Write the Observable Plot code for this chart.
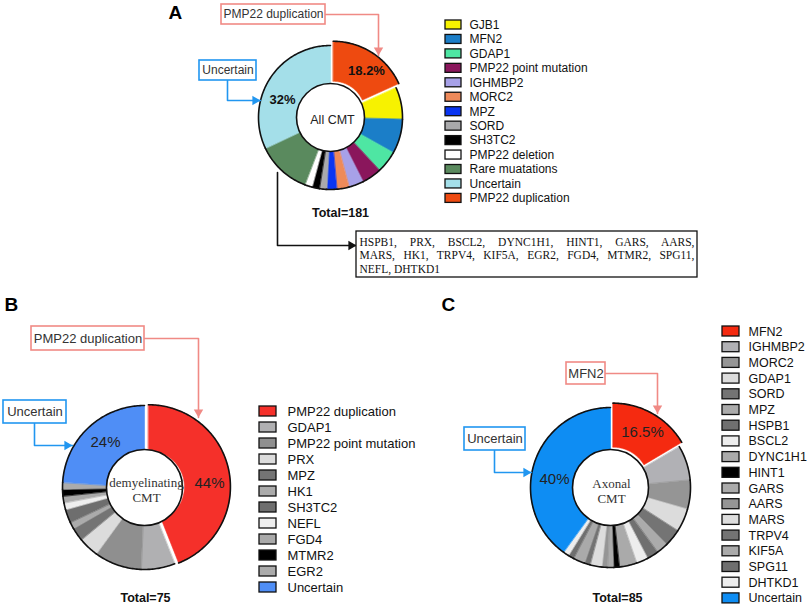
<!DOCTYPE html>
<html><head><meta charset="utf-8">
<script src="https://cdn.jsdelivr.net/npm/d3@7"></script>
<script src="https://cdn.jsdelivr.net/npm/@observablehq/plot@0.6"></script>
<style>html,body{margin:0;padding:0;background:#fff;} #chart{width:809px;height:607px;overflow:hidden}</style>
</head><body><div id="chart"></div>
<script>
// ---------- DATA ----------
const allLabels = ["GJB1","MFN2","GDAP1","PMP22 point mutation","IGHMBP2","MORC2","MPZ","SORD","SH3TC2","PMP22 deletion","Rare muatations","Uncertain","PMP22 duplication"];
const allCounts = [13,14,9,8,6,5,4,3,3,3,22,58,33];
const allColors = ["#f7f200","#1b7ec8","#4ee6a3","#8a165c","#a7a1e8","#ee8a5a","#0a35f2","#a9a9ab","#000000","#ffffff","#5a8a5e","#a4dfe9","#ee4a10"];

const demLabels = ["PMP22 duplication","GDAP1","PMP22 point mutation","PRX","MPZ","HK1","SH3TC2","NEFL","FGD4","MTMR2","EGR2","Uncertain"];
const demCounts = [33,5,7,3,2,1,2,1,1,1,1,18];
const demColors = ["#f5302a","#b0b0b2","#8f8f8f","#dcdcdc","#747474","#ababab","#6e6e6e","#eeeeee","#a9a9a9","#000000","#ababab","#4f8ef6"];

const axLabels = ["MFN2","IGHMBP2","MORC2","GDAP1","SORD","MPZ","HSPB1","BSCL2","DYNC1H1","HINT1","GARS","AARS","MARS","TRPV4","KIF5A","SPG11","DHTKD1","Uncertain"];
const axCounts = [14,6,5,4,3,2,2,2,3,1,1,1,2,1,2,1,1,34];
const axColors = ["#f52a10","#b1b1b5","#959595","#dcdcdc","#747474","#ababab","#707070","#ededed","#aaaaaa","#000000","#ababab","#959595","#dddddd","#737373","#aaaaaa","#6f6f6f","#eeeeee","#0e8df3"];

const rareGenes = ["HSPB1","PRX","BSCL2","DYNC1H1","HINT1","GARS","AARS","MARS","HK1","TRPV4","KIF5A","EGR2","FGD4","MTMR2","SPG11","NEFL","DHTKD1"];
const rareLineBreaks = [7, 15];

// ---------- LAYOUT ----------
const W = 809, H = 607, rad = Math.PI / 180;
const salmon = "#f08a85", blue = "#2196f0";
const sans = "Liberation Sans, Arial, sans-serif", serif = "Liberation Serif, Times New Roman, serif";

function donut(id, counts, colors, o) {
  const total = d3.sum(counts);
  const fills = [], rims = [];
  let a = o.start;
  counts.forEach((c, i) => {
    const a0 = a, a1 = a + c / total * 360; a = a1;
    const m = (a0 + a1) / 2 * rad;
    const off = i === o.explode ? o.offset : 0;
    const ox = o.cx + off * Math.sin(m), oy = o.cy - off * Math.cos(m);
    const n = Math.max(2, Math.ceil(a1 - a0));
    const key = id + i;
    for (let k = 0; k <= n; k++) {
      const t = (a0 + (a1 - a0) * k / n) * rad;
      const p = {x: ox + o.R * Math.sin(t), y: oy - o.R * Math.cos(t), key, color: colors[i]};
      fills.push(p); rims.push(p);
    }
    for (let k = n; k >= 0; k--) {
      const t = (a0 + (a1 - a0) * k / n) * rad;
      fills.push({x: ox + (o.r - 2) * Math.sin(t), y: oy - (o.r - 2) * Math.cos(t), key, color: colors[i]});
    }
  });
  return {fills, rims, total};
}
const pct = (c, t) => { const v = c / t * 100; return (Math.abs(v - Math.round(v)) < 0.1 ? Math.round(v) : v.toFixed(1)) + "%"; };

const A = {cx: 330, cy: 117, R: 72, r: 34, explode: 12, offset: 5};
A.start = 360 * allCounts[12] / d3.sum(allCounts);
const B = {cx: 144, cy: 487, R: 82, r: 38, start: 0, explode: 0, offset: 4};
const C = {cx: 610, cy: 487, R: 80, r: 38, start: 0, explode: 0, offset: 5};

const dA = donut("a", allCounts, allColors, A);
const dB = donut("b", demCounts, demColors, B);
const dC = donut("c", axCounts, axColors, C);
const fills = [...dA.fills, ...dB.fills, ...dC.fills];
const rims = [...dA.rims, ...dB.rims, ...dC.rims];

function hole(o) {
  return Plot.dot([o], {x: "cx", y: "cy", r: o.r, fill: "#fff", stroke: "#111", strokeWidth: 1.6});
}

// legends
function legend(labels, colors, o) {
  return labels.map((label, i) => ({label, color: colors[i], y: o.y0 + i * o.step, x1: o.x, x2: o.x + o.w, h: o.h, tx: o.tx}));
}
const legA = legend(allLabels, allColors, {x: 445, w: 16, h: 9, tx: 469, y0: 24.5, step: 14.45});
const legB = legend(demLabels, demColors, {x: 259, w: 17, h: 10, tx: 287, y0: 411, step: 16});
const legC = legend(axLabels, axColors, {x: 722, w: 17, h: 10, tx: 748, y0: 331, step: 15.7});
const legs = [...legA, ...legB, ...legC];

// callouts
const callouts = [
  {text: allLabels[12], color: salmon, box: [221, 4, 325, 24], fs: 12, path: [[325, 14], [378, 14], [378, 55]], rot: 180},
  {text: allLabels[11], color: blue, box: [199, 60, 256, 80], fs: 12, path: [[227, 80], [227, 100], [260, 100]], rot: 90},
  {text: demLabels[0], color: salmon, box: [31, 326, 144, 350], fs: 13, path: [[144, 338], [198, 338], [198, 417]], rot: 180},
  {text: demLabels[11], color: blue, box: [3, 400, 66, 423], fs: 13, path: [[34, 423], [34, 445], [72, 445]], rot: 90},
  {text: axLabels[0], color: salmon, box: [566, 362, 605, 384], fs: 13, path: [[605, 373], [657, 373], [657, 413]], rot: 180},
  {text: axLabels[17], color: blue, box: [464, 427, 525, 450], fs: 13, path: [[494, 450], [494, 472], [531, 472]], rot: 90},
  {text: null, color: "#111", box: null, path: [[277, 172], [277, 245], [356, 245]], rot: 90}
];
const calloutLines = callouts.flatMap((c, i) => c.path.map(([x, y]) => ({x, y, key: "c" + i, color: c.color})));
const heads = callouts.map(c => {
  const [x, y] = c.path[c.path.length - 1];
  const d = 5.4;
  const hx = c.rot === 90 ? x - d : x, hy = c.rot === 180 ? y - d : y;
  return {x: hx, y: hy, rot: c.rot, color: c.color};
});
const boxes = callouts.filter(c => c.box);

const rareLines = [
  rareGenes.slice(0, rareLineBreaks[0]).join(", ") + ",",
  rareGenes.slice(rareLineBreaks[0], rareLineBreaks[1]).join(", ") + ",",
  rareGenes.slice(rareLineBreaks[1]).join(", ")
].map((t, i) => ({t, y: 241.5 + i * 13.5}));

const pctLabels = [
  {t: pct(allCounts[12], dA.total), x: 366, y: 70, w: "bold"},
  {t: pct(allCounts[11], dA.total), x: 282, y: 99, w: "bold"},
  {t: pct(demCounts[0], dB.total), x: 209, y: 483, w: "normal"},
  {t: pct(demCounts[11], dB.total), x: 105, y: 442, w: "normal"},
  {t: pct(axCounts[0], dC.total), x: 642, y: 432, w: "normal"},
  {t: pct(axCounts[17], dC.total), x: 554, y: 479, w: "normal"}
];
const totals = [
  {t: "Total=" + dA.total, x: 340, y: 212},
  {t: "Total=" + dB.total, x: 145, y: 597},
  {t: "Total=" + dC.total, x: 617, y: 597}
];
const panels = [{t: "A", x: 168, y: 12}, {t: "B", x: 4, y: 304}, {t: "C", x: 441, y: 304}];
const centerSans = [{t: "All CMT", x: A.cx + 2, y: A.cy + 2}];
const centerSerif = [
  {t: "demyelinating\nCMT", x: B.cx + 2, y: B.cy + 2},
  {t: "Axonal\nCMT", x: C.cx + 1, y: C.cy + 3}
];

const chart = Plot.plot({
  width: W, height: H, margin: 0,
  x: {domain: [0, W], range: [0, W], axis: null},
  y: {domain: [0, H], range: [0, H], axis: null},
  color: {type: "identity"},
  style: {fontFamily: sans, background: "#fff", overflow: "visible"},
  marks: [
    Plot.line(fills, {x: "x", y: "y", z: "key", fill: "color", stroke: "color", strokeWidth: 0.6, curve: "linear-closed"}),
    Plot.line(rims, {x: "x", y: "y", z: "key", stroke: "#111", strokeWidth: 1.6, strokeLinecap: "round"}),
    hole(A), hole(B), hole(C),
    Plot.text(centerSans, {x: "x", y: "y", text: "t", fontSize: 12.5, fill: "#222"}),
    Plot.text(centerSerif, {x: "x", y: "y", text: "t", fontFamily: serif, fontSize: 13, lineHeight: 1.15, fill: "#333"}),
    Plot.text(pctLabels.filter(d => d.w === "bold"), {x: "x", y: "y", text: "t", fontSize: 13, fontWeight: "bold", fill: "#111"}),
    Plot.text(pctLabels.filter(d => d.w !== "bold"), {x: "x", y: "y", text: "t", fontSize: 15, fill: "#222"}),
    Plot.text(totals, {x: "x", y: "y", text: "t", fontSize: 12.5, fontWeight: "bold", fill: "#111"}),
    Plot.text(panels, {x: "x", y: "y", text: "t", fontSize: 19, fontWeight: "bold", textAnchor: "start", fill: "#000"}),
    // legends
    Plot.rect(legs, {x1: "x1", x2: "x2", y1: d => d.y - d.h / 2, y2: d => d.y + d.h / 2, fill: "color", stroke: "#111", strokeWidth: 1.3}),
    Plot.text(legA, {x: "tx", y: "y", text: "label", textAnchor: "start", fontSize: 12, fill: "#111"}),
    Plot.text(legB, {x: "tx", y: "y", text: "label", textAnchor: "start", fontSize: 13, fill: "#111"}),
    Plot.text(legC, {x: "tx", y: "y", text: "label", textAnchor: "start", fontSize: 12.5, fill: "#111"}),
    // callouts
    Plot.line(calloutLines, {x: "x", y: "y", z: "key", stroke: "color", strokeWidth: 1.6}),
    Plot.dot(heads, {x: "x", y: "y", symbol: "triangle", r: 3.5, rotate: "rot", fill: "color", stroke: "none"}),
    Plot.rect(boxes, {x1: d => d.box[0], x2: d => d.box[2], y1: d => d.box[1], y2: d => d.box[3], fill: "#fff", stroke: "color", strokeWidth: 1.6}),
    Plot.text(boxes.filter(d => d.fs === 12), {x: d => (d.box[0] + d.box[2]) / 2, y: d => (d.box[1] + d.box[3]) / 2, text: "text", fontSize: 12, fill: "#333"}),
    Plot.text(boxes.filter(d => d.fs === 13), {x: d => (d.box[0] + d.box[2]) / 2, y: d => (d.box[1] + d.box[3]) / 2, text: "text", fontSize: 13, fill: "#333"}),
    // rare mutation box
    Plot.rect([{x1: 356, x2: 697, y1: 231, y2: 277}], {x1: "x1", x2: "x2", y1: "y1", y2: "y2", fill: "#fff", stroke: "#111", strokeWidth: 1.3}),
    Plot.text(rareLines, {x: 359, y: "y", text: "t", textAnchor: "start", fontFamily: serif, fontSize: 11.5, fill: "#111"})
  ]
});
document.getElementById("chart").appendChild(chart);

// justify the first two lines of the rare-gene box
const target = 335;
chart.querySelectorAll("text").forEach(el => {
  const s = el.textContent;
  if (s === rareLines[0].t || s === rareLines[1].t) {
    const len = el.getComputedTextLength();
    const spaces = (s.match(/ /g) || []).length;
    if (spaces) el.style.wordSpacing = ((target - len) / spaces) + "px";
  }
});
</script>
</body></html>
